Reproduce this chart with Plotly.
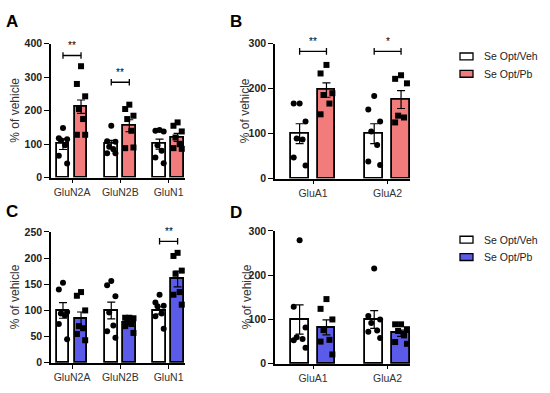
import plotly.graph_objects as go

# ---------------- data ----------------
nmda_labels = ["GluN2A", "GluN2B", "GluN1"]
ampa_labels = ["GluA1", "GluA2"]

# Panel A (Se Opt, Pb red) NMDA
A_veh_mean = [100, 101, 100]
A_veh_sem = [16, 10, 15]
A_pb_mean = [212, 155, 120]
A_pb_sem = [20, 18, 12]
A_veh_pts = [[148, 118, 115, 112, 97, 65, 42],
             [155, 109, 107, 92, 85, 73, 73],
             [142, 140, 138, 97, 80, 60, 43]]
A_pb_pts = [[333, 280, 243, 205, 175, 128, 128],
            [218, 205, 185, 175, 140, 88, 90],
            [165, 155, 138, 120, 100, 88, 86]]

# Panel B AMPA
B_veh_mean = [100, 100]
B_veh_sem = [22, 22]
B_pb_mean = [197, 176]
B_pb_sem = [16, 20]
B_veh_pts = [[167, 167, 127, 89, 87, 47, 29],
             [184, 154, 127, 105, 75, 38, 30]]
B_pb_pts = [[253, 234, 190, 186, 167, 143],
            [230, 222, 212, 140, 136, 125]]

# Panel C (blue) NMDA
C_veh_mean = [100, 100, 100]
C_veh_sem = [15, 16, 7]
C_pb_mean = [83, 76, 160]
C_pb_sem = [14, 4, 15]
C_veh_pts = [[153, 140, 97, 94, 91, 74, 45],
             [156, 148, 127, 96, 71, 60, 48],
             [130, 115, 109, 108, 94, 89, 65]]
C_pb_pts = [[135, 128, 100, 70, 66, 55, 43],
            [86, 86, 85, 78, 74, 70, 57],
            [210, 204, 176, 170, 135, 130, 111]]

# Panel D AMPA
D_veh_mean = [100, 100]
D_veh_sem = [33, 20]
D_pb_mean = [82, 69]
D_pb_sem = [17, 7]
D_veh_pts = [[279, 129, 82, 60, 56, 53, 36],
             [215, 108, 100, 92, 75, 72, 58]]
D_pb_pts = [[146, 124, 100, 76, 54, 50, 21],
            [89, 89, 78, 74, 64, 49, 45]]

# significance: (category index, bracket y, text)
A_sig = [(0, 365, "**"), (1, 285, "**")]
B_sig = [(0, 283, "**"), (1, 283, "*")]
C_sig = [(2, 232, "**")]
D_sig = []

legend_labels = ["Se Opt/Veh", "Se Opt/Pb"]

RED = "#F27B7B"
BLUE = "#5B5BEA"
W, H = 550, 393
FONT = "Liberation Sans, Arial, sans-serif"

fig = go.Figure()

def px_x(p):
    return p / W

def px_y(p):
    return 1 - p / H

panels = [
    dict(key="", labels=nmda_labels, vm=A_veh_mean, vs=A_veh_sem, pm=A_pb_mean, ps=A_pb_sem,
         vp=A_veh_pts, pp=A_pb_pts, sig=A_sig, color=RED, xdom=(51, 185), ydom=(177, 39),
         xr=[-0.435, 2.34], yr=[0, 400], dt=100, off=0.187, bw=0.26, letter="A",
         lx=12, ly=16, tx=15),
    dict(key="2", labels=ampa_labels, vm=B_veh_mean, vs=B_veh_sem, pm=B_pb_mean, ps=B_pb_sem,
         vp=B_veh_pts, pp=B_pb_pts, sig=B_sig, color=RED, xdom=(275, 410), ydom=(178, 39),
         xr=[-0.51, 1.30], yr=[0, 300], dt=100, off=0.18, bw=0.24, letter="B",
         lx=236, ly=16, tx=245),
    dict(key="3", labels=nmda_labels, vm=C_veh_mean, vs=C_veh_sem, pm=C_pb_mean, ps=C_pb_sem,
         vp=C_veh_pts, pp=C_pb_pts, sig=C_sig, color=BLUE, xdom=(51, 185), ydom=(368, 233),
         xr=[-0.435, 2.34], yr=[0, 250], dt=50, off=0.187, bw=0.26, letter="C",
         lx=12, ly=212, tx=15),
    dict(key="4", labels=ampa_labels, vm=D_veh_mean, vs=D_veh_sem, pm=D_pb_mean, ps=D_pb_sem,
         vp=D_veh_pts, pp=D_pb_pts, sig=D_sig, color=BLUE, xdom=(275, 410), ydom=(369, 232),
         xr=[-0.51, 1.30], yr=[0, 300], dt=100, off=0.18, bw=0.24, letter="D",
         lx=236, ly=213, tx=247),
]

pattern = [0, -1, 1, -0.5, 0.5, -1, 1, 0]

for p in panels:
    xa = "x" + p["key"]
    ya = "y" + p["key"]
    n = len(p["labels"])
    idx = list(range(n))
    for grp, (means, sems, pts, fill, sym) in enumerate([
        (p["vm"], p["vs"], p["vp"], "white", "circle"),
        (p["pm"], p["ps"], p["pp"], p["color"], "square"),
    ]):
        sgn = -1 if grp == 0 else 1
        xs = [i + sgn * p["off"] for i in idx]
        fig.add_trace(go.Bar(
            x=xs, y=means, width=p["bw"], xaxis=xa, yaxis=ya,
            marker=dict(color=fill, line=dict(color="black", width=1.8)),
            error_y=dict(type="data", array=sems, visible=True, color="black",
                         thickness=1.2, width=4),
            showlegend=False, hoverinfo="skip"))
        px_, py_ = [], []
        for i, vals in enumerate(pts):
            for k, v in enumerate(vals):
                px_.append(xs[i] + pattern[k % len(pattern)] * p["bw"] * 0.33)
                py_.append(v)
        fig.add_trace(go.Scatter(
            x=px_, y=py_, mode="markers", xaxis=xa, yaxis=ya,
            marker=dict(symbol=sym, size=6, color="black"),
            showlegend=False, hoverinfo="skip", cliponaxis=False))
    # significance brackets
    cap = (p["yr"][1] - p["yr"][0]) * 0.025
    for (ci, yv, txt) in p["sig"]:
        x1, x2 = ci - p["off"], ci + p["off"]
        fig.add_trace(go.Scatter(
            x=[x1, x1, None, x1, x2, None, x2, x2],
            y=[yv - cap, yv + cap, None, yv, yv, None, yv - cap, yv + cap],
            mode="lines", line=dict(color="black", width=1.3), xaxis=xa, yaxis=ya,
            showlegend=False, hoverinfo="skip", cliponaxis=False))
        fig.add_annotation(x=ci, y=yv, xref=xa, yref=ya, text=txt, showarrow=False,
                           xanchor="center", yanchor="middle", yshift=10,
                           font=dict(family=FONT, size=10, color="black"))

    xd = [px_x(p["xdom"][0]), px_x(p["xdom"][1])]
    yd = [px_y(p["ydom"][0]), px_y(p["ydom"][1])]
    xname = "xaxis" + p["key"]
    yname = "yaxis" + p["key"]
    fig.update_layout({
        xname: dict(domain=xd, range=p["xr"], anchor=ya, tickmode="array", tickvals=idx,
                    ticktext=p["labels"], showline=True, linecolor="black", linewidth=1.5,
                    ticks="outside", ticklen=4, tickwidth=1.3, tickcolor="black",
                    showgrid=False, zeroline=False,
                    tickfont=dict(family=FONT, size=10.5, color="#333333")),
        yname: dict(domain=yd, range=p["yr"], anchor=xa, tickmode="linear", tick0=0,
                    dtick=p["dt"], showline=True, linecolor="black", linewidth=1.5,
                    ticks="outside", ticklen=5, tickwidth=1.3, tickcolor="black",
                    showgrid=False, zeroline=False,
                    tickfont=dict(family=FONT, size=10.5, color="#222222", weight="bold")),
    })
    # panel letter
    fig.add_annotation(x=px_x(p["lx"]), y=px_y(p["ly"]), xref="paper", yref="paper",
                       text="<b>%s</b>" % p["letter"], showarrow=False,
                       xanchor="center", yanchor="middle",
                       font=dict(family=FONT, size=17, color="black"))
    # y title
    fig.add_annotation(x=px_x(p["tx"]), y=(yd[0] + yd[1]) / 2, xref="paper", yref="paper",
                       text="% of vehicle", textangle=-90, showarrow=False,
                       xanchor="center", yanchor="middle",
                       font=dict(family=FONT, size=12, color="#333333"))

# legends (drawn as key boxes + text)
for (ly0, color) in [(52, RED), (241, BLUE)]:
    for j, lab in enumerate(legend_labels):
        yc = ly0 + j * 18
        fill = "white" if j == 0 else color
        fig.add_shape(type="rect", xref="paper", yref="paper",
                      x0=px_x(460), x1=px_x(473), y0=px_y(yc + 3.5), y1=px_y(yc - 3.5),
                      line=dict(color="black", width=1.3), fillcolor=fill)
        fig.add_annotation(x=px_x(482), y=px_y(yc), xref="paper", yref="paper",
                           text=lab, showarrow=False, xanchor="left", yanchor="middle",
                           font=dict(family=FONT, size=10.5, color="#222222"))

fig.update_layout(width=W, height=H, margin=dict(l=0, r=0, t=0, b=0),
                  plot_bgcolor="white", paper_bgcolor="white", showlegend=False,
                  bargap=0)

fig.write_html("out.html", config={"displayModeBar": False},
               post_script="document.body.style.margin='0';document.body.style.padding='0';")
